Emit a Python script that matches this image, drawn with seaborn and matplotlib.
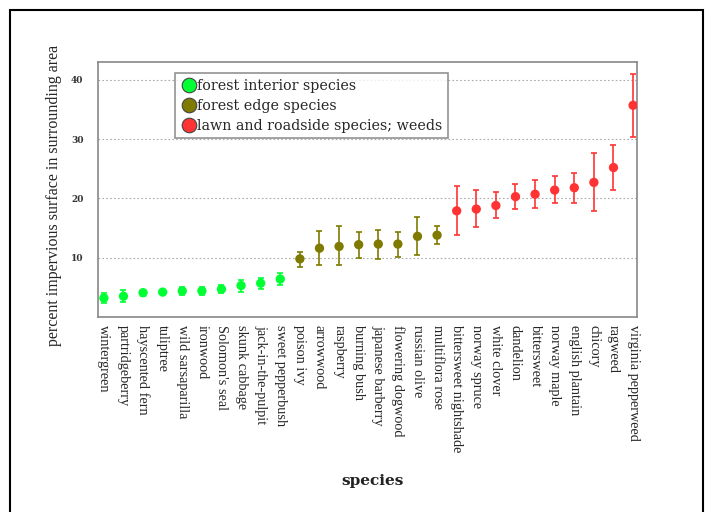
import matplotlib
matplotlib.use("Agg")
import matplotlib.pyplot as plt
import seaborn as sns
import pandas as pd
from matplotlib.patches import Rectangle
from matplotlib.lines import Line2D

species = ["wintergreen", "partridgeberry", "hayscented fern", "tuliptree",
           "wild sarsaparilla", "ironwood", "Solomon's seal", "skunk cabbage",
           "jack-in-the-pulpit", "sweet pepperbush", "poison ivy", "arrowwood",
           "raspberry", "burning bush", "japanese barberry", "flowering dogwood",
           "russian olive", "multiflora rose", "bittersweet nightshade",
           "norway spruce", "white clover", "dandelion", "bittersweet",
           "norway maple", "english plantain", "chicory", "ragweed",
           "virginia pepperweed"]
groups = (["forest interior species"] * 10 + ["forest edge species"] * 8 +
          ["lawn and roadside species; weeds"] * 10)
means = [3.2, 3.5, 4.1, 4.2, 4.4, 4.4, 4.7, 5.3, 5.7, 6.4,
         9.8, 11.6, 11.9, 12.2, 12.3, 12.3, 13.6, 13.8,
         17.9, 18.2, 18.8, 20.3, 20.7, 21.4, 21.8, 22.7, 25.2, 35.7]
lower = [2.4, 2.5, 3.6, 3.8, 3.7, 3.7, 4.0, 4.3, 4.8, 5.4,
         8.4, 8.8, 8.7, 9.9, 9.8, 10.2, 10.5, 12.3,
         13.9, 15.1, 16.7, 18.2, 18.4, 19.2, 19.3, 17.8, 21.5, 30.3]
upper = [4.0, 4.5, 4.6, 4.6, 5.1, 5.1, 5.4, 6.3, 6.6, 7.4,
         11.0, 14.5, 15.3, 14.3, 14.7, 14.3, 16.8, 15.3,
         22.1, 21.4, 21.0, 22.4, 23.1, 23.7, 24.3, 27.6, 29.0, 41.0]
yticks = [10, 20, 30, 40]
colors = {"forest interior species": "#00ff33",
          "forest edge species": "#7f7a00",
          "lawn and roadside species; weeds": "#ff3333"}

df = pd.DataFrame({"species": species, "group": groups, "mean": means,
                   "lower": lower, "upper": upper})
df["x"] = range(len(df))

sns.set_style("white")
fig = plt.figure(figsize=(7.13, 5.12), dpi=100)
ax = fig.add_axes([98 / 713, 1 - 317 / 512, (637 - 98) / 713, (317 - 62) / 512])

for g, sub in df.groupby("group", sort=False):
    ax.errorbar(sub["x"], sub["mean"],
                yerr=[sub["mean"] - sub["lower"], sub["upper"] - sub["mean"]],
                fmt="none", ecolor=colors[g], elinewidth=1.2, capsize=2.5,
                capthick=1.2, zorder=2)
sns.scatterplot(data=df, x="x", y="mean", hue="group", palette=colors,
                s=45, edgecolor="none", legend=False, ax=ax, zorder=3)

ax.set_xlim(-0.3, len(df) - 1 + 0.2)
ax.set_ylim(0, 43)
ax.set_yticks(yticks)
ax.set_yticklabels([str(t) for t in yticks], fontsize=6.5, fontweight="bold",
                   family="DejaVu Serif", color="#333333")
ax.set_xticks(df["x"])
ax.set_xticklabels(df["species"], rotation=270, fontsize=10.3,
                   family="Liberation Serif", va="top", ha="center")
ax.tick_params(axis="y", direction="out", length=7, width=1.5, color="black", pad=3.5)
ax.tick_params(axis="x", direction="out", length=5, width=1.5, color="black", pad=1)
ax.yaxis.grid(True, linestyle=(0, (1.5, 2)), color="#aaaaaa", linewidth=0.8)
ax.xaxis.grid(False)
for s in ax.spines.values():
    s.set_color("#888888")
    s.set_linewidth(1.2)

ax.set_xlabel("species", fontsize=11, fontweight="bold", family="DejaVu Serif",
              color="#222222")
ax.xaxis.set_label_coords(0.51, -0.615)
ax.set_ylabel("percent impervious surface in surrounding area", fontsize=11.5,
              family="Liberation Serif")
ax.yaxis.set_label_coords(-0.067, 0.475)

handles = [Line2D([], [], marker="o", linestyle="none", markersize=10.5,
                  markerfacecolor=colors[g], markeredgecolor="#444444",
                  markeredgewidth=0.8) for g in colors]
leg = ax.legend(handles, list(colors), loc="upper left",
                bbox_to_anchor=(0.143, 0.957), prop={"family": "DejaVu Serif", "size": 10.3},
                frameon=True, fancybox=False, handletextpad=0.05,
                borderpad=0.4, labelspacing=0.42, handlelength=1.1, borderaxespad=0)
leg.get_frame().set_edgecolor("#777777")
leg.get_frame().set_linewidth(1.2)

fig.patches.append(Rectangle((10 / 713, -0.01), (703 - 10) / 713, 1 - 10 / 512 + 0.01,
                             transform=fig.transFigure, fill=False,
                             edgecolor="black", linewidth=1.5))

fig.savefig("out.png", dpi=100)
